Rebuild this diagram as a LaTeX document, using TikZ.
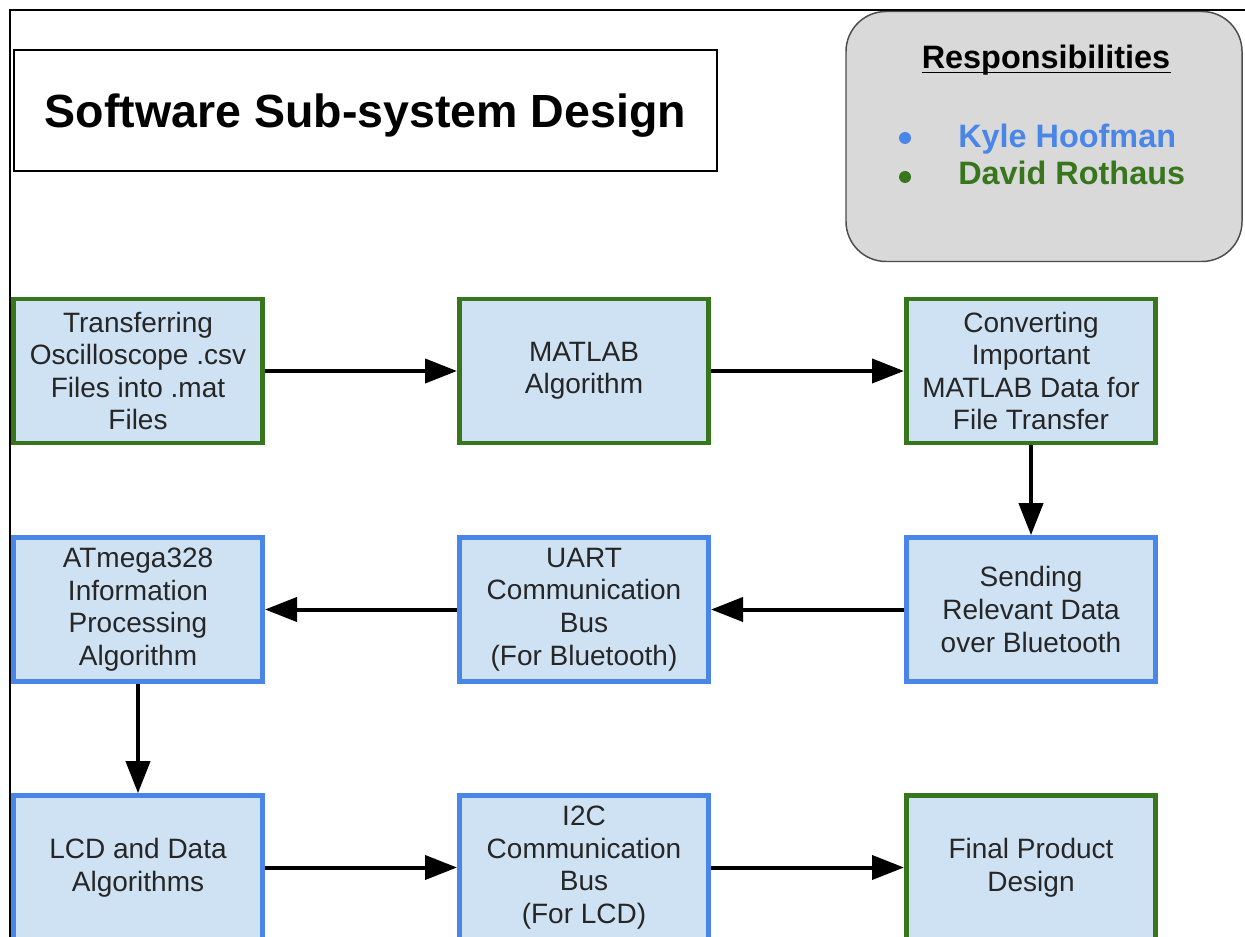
\documentclass[tikz,border=0pt]{standalone}
\usepackage{fontspec}
\setmainfont{Liberation Sans}
\usetikzlibrary{arrows.meta,positioning}
\definecolor{boxfill}{HTML}{CFE2F3}
\definecolor{kylecol}{HTML}{4A86E8}
\definecolor{davidcol}{HTML}{38761D}
\definecolor{respfill}{HTML}{D9D9D9}
\tikzset{
  stepbox/.style={draw, line width=3.5pt, fill=boxfill, minimum width=187pt,
    minimum height=108pt, inner sep=0pt, align=center, text=black!85,
    font=\fontsize{21}{24.4}\selectfont},
  greenbox/.style={stepbox, draw=davidcol},
  bluebox/.style={stepbox, draw=kylecol},
  flow/.style={-{Triangle[length=24pt,width=18pt]}, line width=3pt},
  namefont/.style={font=\fontsize{24.3}{28}\selectfont\bfseries, inner sep=0pt},
  bulletdot/.style={circle, inner sep=0pt, minimum size=9pt},
}
\begin{document}
\begin{tikzpicture}[x=0.75pt, y=-0.75pt]
    \useasboundingbox (0,0) rectangle (1245,937);
    \clip (0,0) rectangle (1245,937);
    \fill[white] (0,0) rectangle (1245,937);
    \draw[line width=1.2pt] (10,937) -- (10,10) -- (1245,10);
    \node[draw, line width=1.5pt, minimum width=527pt, minimum height=91pt,
      text depth=0pt, font=\fontsize{34.9}{40}\selectfont\bfseries] (title) at (365.5,110.5) {Software Sub-system Design};
    \node[draw=black!70, line width=1.1pt, fill=respfill, rounded corners=30pt,
      minimum width=297pt, minimum height=187.5pt] (resp) at (1044,136.5) {};
    \node[namefont, anchor=base] (resphead) at (1046,69) {Responsibilities};
    \draw[line width=1.4pt] ([yshift=-2.6pt]resphead.base west) -- ([yshift=-2.6pt]resphead.base east);
    \node[bulletdot, fill=kylecol] (kbullet) at (905,138) {};
    \node[namefont, anchor=base west, text=kylecol] (kyle) at (958,148) {Kyle Hoofman};
    \node[bulletdot, fill=davidcol] (dbullet) at (905,177) {};
    \node[namefont, anchor=base west, text=davidcol] (david) at (958,185) {David Rothaus};
    \node[greenbox] (csv) at (138,371) {Transferring\\Oscilloscope .csv\\Files into .mat\\Files};
    \node[greenbox] (matlab) at (584,371) {MATLAB\\Algorithm};
    \node[greenbox] (convert) at (1031,371) {Converting\\Important\\MATLAB Data for\\File Transfer};
    \node[bluebox] (send) at (1031,609.5) {Sending\\Relevant Data\\over Bluetooth};
    \node[bluebox] (uart) at (584,609.5) {UART\\Communication\\Bus\\(For Bluetooth)};
    \node[bluebox] (atmega) at (138,609.5) {ATmega328\\Information\\Processing\\Algorithm};
    \node[bluebox] (lcd) at (138,867.5) {LCD and Data\\Algorithms};
    \node[bluebox] (itwoc) at (584,867.5) {I2C\\Communication\\Bus\\(For LCD)};
    \node[greenbox] (final) at (1031,867.5) {Final Product\\Design};
    \draw[flow] (csv) -- (matlab);
    \draw[flow] (matlab) -- (convert);
    \draw[flow] (convert) -- (send);
    \draw[flow] (send) -- (uart);
    \draw[flow] (uart) -- (atmega);
    \draw[flow] (atmega) -- (lcd);
    \draw[flow] (lcd) -- (itwoc);
    \draw[flow] (itwoc) -- (final);
\end{tikzpicture}
\end{document}
